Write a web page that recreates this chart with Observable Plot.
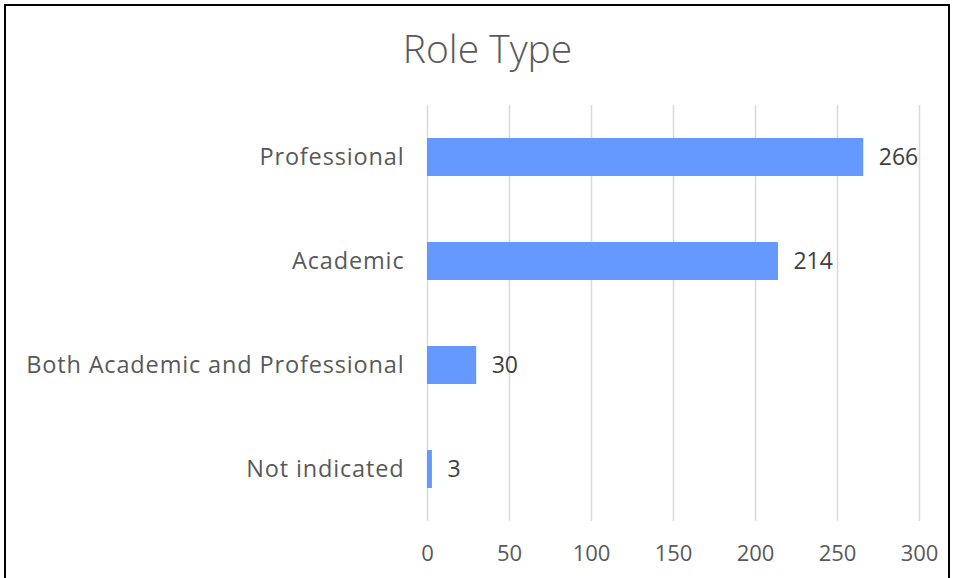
<!DOCTYPE html>
<html>
<head>
<meta charset="utf-8">
<script src="https://cdn.jsdelivr.net/npm/d3@7"></script>
<script src="https://cdn.jsdelivr.net/npm/@observablehq/plot@0.6"></script>
<style>
  body { margin: 0; background: #fff; }
  #wrap { position: relative; width: 958px; height: 578px; overflow: hidden; font-family: "Open Sans", sans-serif; }
  #border { position: absolute; left: 4px; top: 4px; width: 946px; height: 700px; border: 2px solid #000; box-sizing: border-box; }
  #title { position: absolute; left: 0; top: 24px; width: 975px; text-align: center; font-size: 39px; font-weight: 300; color: #595959; line-height: 48px; }
  #chart { position: absolute; left: 0; top: 105px; }
  g[aria-label="y-axis tick label"] text { letter-spacing: 0.85px; }
</style>
</head>
<body>
<div id="wrap">
  <div id="border"></div>
  <div id="title">Role Type</div>
  <div id="chart"></div>
</div>
<script>
const categories = ["Professional", "Academic", "Both Academic and Professional", "Not indicated"];
const values = [266, 214, 30, 3];
const xTicks = [0, 50, 100, 150, 200, 250, 300];

const data = categories.map((c, i) => ({category: c, value: values[i]}));

const chart = Plot.plot({
  width: 958,
  height: 473,
  marginLeft: 427,
  marginRight: 39,
  marginTop: 0,
  marginBottom: 57,
  style: {fontFamily: "'Open Sans', sans-serif", fontSize: "20px", color: "#595959", background: "transparent", overflow: "visible"},
  x: {domain: [0, 300], ticks: xTicks},
  y: {domain: categories, paddingInner: 0.635, paddingOuter: 0.3175},
  marks: [
    Plot.gridX(xTicks, {stroke: "#d9d9d9", strokeOpacity: 1, strokeWidth: 1.5}),
    Plot.barX(data, {x: "value", y: "category", fill: "#6699ff"}),
    Plot.text(data, {x: "value", y: "category", text: d => String(d.value), textAnchor: "start", dx: 15, fill: "#404040", fontSize: 23}),
    Plot.axisX(xTicks, {tickSize: 0, tickPadding: 24, fill: "#595959", fontSize: 22, label: null, tickFormat: d => String(d)}),
    Plot.axisY({tickSize: 0, tickPadding: 23, fill: "#595959", fontSize: 23.5, label: null})
  ]
});
document.getElementById("chart").appendChild(chart);
</script>
</body>
</html>
